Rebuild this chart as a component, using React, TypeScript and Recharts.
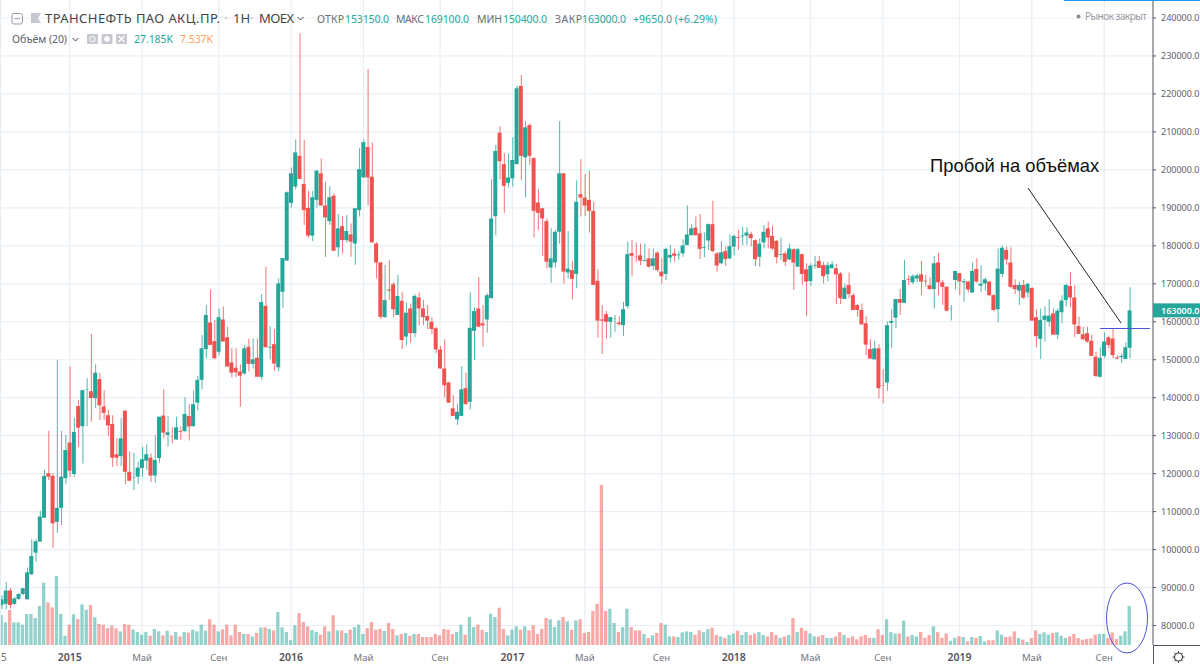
import React from 'react';
import { ComposedChart, Bar, Cell, XAxis, YAxis, CartesianGrid } from 'recharts';

// weekly candles, prices in thousands of roubles, volume in thousands
const opens = [
  85.4,85.7,89.2,85.7,87,88.3,86.9,93.5,99.2,102.1,
  108.4,120.1,119.4,107.3,111,118.8,128.2,119.9,137.8,132.5,
  142.1,141.7,139.9,144.9,137.7,135.4,133.1,125.1,124.6,136.6,
  120.5,119,119.2,121.5,123.4,124.2,119.5,124.1,135.3,130.2,
  129.9,129,131.2,131.2,135.2,132.5,138.7,144.7,152.8,159.8,
  154.9,152.1,160.6,155.9,149.3,147.9,146.9,146.4,153.4,148.9,
  150.5,145.5,164.2,153.2,154.1,148,167.9,176.1,191.3,195.6,
  203.7,196.3,190,182.7,192.1,199.1,190.6,186.5,193.2,179.6,
  185.2,181.5,183,180.6,189.4,198,206,198.2,180.6,175.6,
  161.2,168.5,169.9,161.8,165.5,156.1,163.5,157,166.4,163.5,
  161.5,160,158.3,152.7,147.7,144,137.2,134.3,135.2,142.5,
  138.9,157.6,163.5,159.6,160.6,166.2,187.8,209.8,201.5,196.6,
  197.8,201.5,222.1,203.3,211.8,203.1,191.4,189.9,186.5,174.3,
  175.6,183.7,199.1,173,173.6,172.6,193.6,192.7,192.1,189.2,
  170.8,160.6,162,160,160.7,159.8,159.1,164.1,178.1,177.1,
  177.5,176,176.7,174.7,178.2,173.2,172.6,176.9,178,177.5,
  178,180.2,182.8,184.8,183.3,179.5,181.4,185.7,178,175.4,
  178.6,176.7,179.8,182.3,182.5,182.7,183.1,181.5,177.1,180.9,
  184.6,182.6,181.3,177.6,178,176.4,179.1,174.5,177.8,173.8,
  170.7,174.8,176,174.9,172.5,174.1,174.1,172.7,166,169.7,
  167,164.4,163.1,159.6,152.8,150.1,153,143.2,144,159.7,
  161.1,166,165,171.3,170.4,171.4,172.5,170.8,169.6,168.6,
  175.6,170.4,169.2,163.5,171,172.8,170.4,170.6,167.7,173.9,
  169.5,170.1,170.6,167,163.3,172.6,178.9,175.6,169.7,168.2,
  169.7,167.7,168.9,161.2,155.5,160.5,160,162.2,156.6,162.5,
  165.7,169.4,166.4,158.9,156.7,157,155,150.8,145.5,151,
  155.9,155.6,150.6,150.7,150.2,153.15,
];
const highs = [
  88,91.5,89.8,87.6,88.5,89.9,95.3,102.7,102.7,110.2,
  121,131.3,120.2,150,131.3,130.2,148.2,134.8,139.4,142,
  145.1,156.8,148.8,146.6,142,136.8,135.4,129.3,134.6,136.6,
  125.8,125.5,123.2,127.1,127.7,125.3,130.2,135,142.2,135.2,
  132.2,135,132.4,140.1,138.3,141.9,145.7,156.5,164.4,168.5,
  160.5,163.5,164,158.7,153,153,148.8,153.9,155.6,155.6,
  155.6,167.3,174.5,158.9,158.1,171.4,176.8,194.3,200.6,208,
  236,207.9,194.5,194.5,200,203,196.9,195.7,193.8,188.4,
  187.8,188.1,185.9,189.9,205.7,208,226.6,207.2,181,175.8,
  175,176.2,170.5,172.3,167.9,165.1,164.8,167.3,167.7,165.7,
  164.4,161.2,158.7,153.6,155.4,144.2,140.7,138.5,148.3,146.6,
  167.9,163.8,171.7,164.4,167.5,197.5,206.6,211.4,204.5,204.3,
  208.6,222.1,225,212.9,212.3,203.3,194.9,189.9,187.2,184.6,
  184.2,212.9,199.1,183.9,176,197.3,202.8,198.9,199.8,191.6,
  173.8,164.4,162.9,161.3,161.8,161.5,165.3,181.1,181.5,180.8,
  180.6,180.6,179.3,179.3,178.6,176.7,179.5,180.2,179.3,178.6,
  181.7,190.6,185.7,187.7,188.4,183.5,185.9,191.9,178.4,181.3,
  179.8,183,183,184.2,184.9,184.9,183.7,181.7,182,185.5,
  186.4,185.2,181.5,182.2,178.6,180.6,179.3,179.5,178,175.4,
  175.4,177.3,177.3,175.8,175.8,176,175.2,173.2,170.1,173,
  167.5,164.7,164.8,161.5,155.4,155,154.1,147.5,160,163.3,
  166,168.6,176.3,172.3,172.6,172.7,176,172.3,171.7,177.3,
  178.2,171,169.4,164.4,173.4,172.9,171.4,170.8,175.6,176.7,
  174.9,171.7,170.6,167.3,179.3,180,179.8,179.6,171.2,170.6,
  171,170.3,169.1,163.3,163.5,164,165.9,163.5,163.5,167,
  170,173.2,169.7,161.3,158.7,158.7,156.5,152.1,153.3,157.2,
  156.3,158.1,151.2,151.7,154.6,169.1,
];
const lows = [
  84.3,84.25,84.5,85.4,86.8,88,86.9,93.3,96.8,102.1,
  108.4,118.3,100.5,104.4,106.5,117.3,119.2,119.2,127.1,122.7,
  132.5,133.7,137.3,134.1,134.1,129.9,121.8,122,122,117.3,
  118.1,115.7,117.3,119.2,121,117.7,117.6,122.9,129.3,127.1,
  128,128.9,128.9,131,128.7,132.4,136.6,142.2,150.4,153.9,
  150.1,151.2,154.8,148.2,145.4,145.4,137.6,146,146.9,147.7,
  145.5,144.7,153.3,150.1,147.1,146.9,163.7,176.1,190.1,194.9,
  197.6,185.5,182.2,181.3,190.1,190.6,177.1,185.5,178.7,177.1,
  178,180.8,177.1,175,187.7,198,190.6,180.9,171.4,160.7,
  161.2,165.7,161.2,161.8,152.8,153.7,154.5,155.9,159.1,159.1,
  158,156.8,151.7,147.7,140.1,138.7,135.2,132.8,135.2,138.3,
  136.9,149.9,158.5,153.4,157.1,166.2,182.8,197.5,188.7,195.4,
  195.6,201.5,197.3,192.7,201.3,182.2,184.2,177.4,174,170.3,
  174.3,180.6,170.1,171.4,165.9,168.8,187.7,187.8,183.5,169.7,
  155.8,151.5,155.6,155.8,157.4,158.9,156.3,163.5,171.9,175.8,
  174.9,175.8,174.3,173.6,173.2,170,171,175.6,175.8,176.3,
  177.1,180.2,182.8,182.7,176.5,177,178.9,178.4,173.2,175.2,
  174.7,176.4,177.6,178.9,180.2,180.2,179.9,174.7,174.5,179.3,
  179.3,178.9,175.4,176.2,174.7,176.2,168.4,174.5,169.8,161.5,
  169.4,174,174.2,170.1,170.6,174.1,164.7,164.7,166,166.2,
  163.1,161.3,159.3,151.2,150.2,150.1,139.8,138.5,141.8,153,
  158.3,161.8,165,169.7,169.9,170.4,167,169.2,168.4,163.5,
  167,164.4,162.8,160.3,168.5,167,165.3,167.7,167.7,170.3,
  167.9,168.1,166.8,162.8,159.8,171.7,175,168.8,167.3,164.4,
  166,166.4,160.3,153.3,150.2,154.8,158.7,156.5,155.5,159.6,
  164,163.8,155.9,156.7,155.2,154.5,151,145.4,145.3,150.4,
  153,150.4,150.1,149.2,150.2,150.4,
];
const closes = [
  86.9,89.2,85.4,87.1,88.3,89.8,94,98.3,102.2,108.7,
  119.4,119.2,106.9,111,119.2,126.2,120.8,131,132.1,142,
  142.2,139.9,146.6,138,136,132.7,124.2,124.2,129.3,120.5,
  118.1,119.1,121.6,123.8,125.1,119.5,123.6,135,130.8,130.9,
  129.8,132.2,131,135.7,132.4,138.3,144.7,153,161.8,153.9,
  150.4,161.2,154.8,148.2,146.6,146.7,145.8,153,148.9,150.1,
  145.5,165.2,153.3,153.4,149,170.1,176.8,194.1,199.1,204.6,
  197.6,189.4,182.7,192.8,199.8,190.6,187.5,192.8,178.7,184.6,
  181.5,183.9,181.1,189.9,200.2,207.3,198,180.9,175.6,161.3,
  165.7,168.2,163.3,166.8,155.2,162.4,157,166.8,163.5,161.2,
  160.3,158.1,152.7,147.7,143.3,138.7,135.2,136.3,142.2,138.3,
  158.4,162.8,158.7,159,167,187.2,205,202.3,195.8,198,
  202.6,221.5,203.7,211.2,203.7,189.2,188.7,187.2,175.8,176.7,
  183.7,199.1,173.2,174,171.3,191.6,192.7,190.6,189.2,169.7,
  160.3,160.3,160,161.2,160.8,159.4,163.3,177.8,177.4,177,
  176.1,176.2,174.5,176.7,173.6,172,179.2,177.6,177.4,177.7,
  180.1,183,184.6,182.8,179.2,179.7,185.7,178.6,174.8,178.3,
  176.5,179.9,182.6,182.1,182.7,183.5,182,176.5,180.6,183.7,
  182.2,179.3,177,177.8,175.8,179.3,175.6,179.1,172.6,170.6,
  174.8,175,174.2,172,174.9,175.1,172.5,166.2,169,167.3,
  163.1,163.1,159.3,154,150.3,153,142.5,143.1,159.1,160.2,
  166,165,171,171.1,172,172.2,170.6,170.6,168.6,175.4,
  170.4,169.2,162.9,163.6,173.4,170.6,170.7,168.5,173.4,170.6,
  170,171.2,167,163.1,174,179.5,176.4,169.2,168.6,169.7,
  166.3,170,160.3,156.2,160.5,161.6,161.6,156.6,162.9,165.6,
  169.7,166.4,159.3,156.8,155.4,154.8,151,145.7,150.5,154.8,
  153.9,151.2,150.3,151,153.3,163,
];
const volumes = [
  20.9,15.8,24.4,15.8,15.8,14.2,21.6,21.6,18.8,27.2,
  43.4,29.7,26.2,48.1,21.6,6.5,14.2,21.4,18.1,28.3,
  24.6,27.9,19.3,14.6,14.2,11.8,13.5,11.6,9.5,14.6,
  14.2,10.9,9.1,7.2,9.1,6.5,11.2,9.5,6.7,10,
  6.7,9.1,6,9.1,8.6,10.7,9.5,14.2,10,17.9,
  14.2,9.5,10.9,14.2,6.7,14.2,9.1,7.7,7.7,6,
  8.4,12.3,12.3,11.2,10.2,23,12.3,9.1,3.3,13.7,
  22.3,16,13,10.5,9.3,7.2,13,9.5,20.7,10.2,
  10.2,8.4,10.7,12.5,14.2,7.7,11.8,16,10.7,11.2,
  9.8,15.3,11.2,6.7,7.7,8.4,6.5,7.7,7.7,5.6,
  5.6,5.6,7.7,6.7,11.2,10.7,7.7,9.1,14.2,7.2,
  19.5,12.5,14.2,10.5,9.1,21.8,19.5,26,11.2,6.7,
  10.7,13,10.7,13,10.2,13.7,7.7,11.2,18.8,17.9,
  12.5,17.2,19.5,16.5,10.7,17.2,17.9,8.4,9.1,23.7,
  28.8,111.5,23.7,25.3,15.3,9.1,12.5,25.3,12.5,10.2,
  10.2,7.7,4.9,6.7,8.4,15.3,14.2,6,6,5.6,
  8.8,9.5,9.1,7.2,10.2,9,11,12,7,6,
  5,7,8,10,7,9,7,8,9,7,
  6,9,7,5,6,7,18.8,9,12,10,
  8,6,6,7,5,5,6,9,7,5,
  6,4,6,7,5,5,11,7,18,9,
  8,8,17,6,7,6,9,5,7,13,
  9,5,8,3,5,6,5.6,2.6,5.6,4.9,
  6.3,2.6,3.3,3.3,10.2,7.2,5.6,6,9.5,4.9,
  3.7,2.1,4.9,10.2,7.7,8.8,7.2,8.4,8.8,6.5,
  4.9,6,7.7,4.9,3.7,4.2,4.6,7.2,7.7,7.7,
  4.9,8.8,4.2,6.5,9.5,27.185,
];

const priceTicks = [80,90,100,110,120,130,140,150,160,170,180,190,200,210,220,230,240];
const lastPrice = 163;

// week index -> axis label
const gridWeeks = [16,33,51,68,85,103,120,137,155,172,190,207,225,242,259];
const gridLabels = ['2015','Май','Сен','2016','Май','Сен','2017','Май','Сен','2018','Май','Сен','2019','Май','Сен'];

const GREEN = '#26a69a';
const RED = '#ef5350';
const FONT = '"Noto Sans", "Open Sans", sans-serif';

const candles = opens.map((o, i) => ({
  week: i,
  wick: [lows[i], highs[i]],
  body: [Math.min(o, closes[i]), Math.max(o, closes[i])],
  volume: volumes[i],
  up: closes[i] >= o,
}));

const weekDomain = [-0.376, 270.47];

const PriceTick = ({ y, payload }: any) => {
  if (payload.value === lastPrice) {
    return (
      <g>
        <rect x={1153} y={y - 7} width={47} height={14} fill={GREEN} />
        <text x={1161} y={y + 3.5} fontSize={9} fontWeight={600} fill="#fff" fontFamily={FONT}>
          {(payload.value * 1000).toFixed(1)}
        </text>
      </g>
    );
  }
  return (
    <text x={1161} y={y + 3.5} fontSize={9} fill="#5d606b" fontFamily={FONT}>
      {(payload.value * 1000).toFixed(1)}
    </text>
  );
};

const WeekTick = ({ x, payload }: any) => {
  const label = payload.value === 0.5 ? '5' : gridLabels[gridWeeks.indexOf(payload.value)];
  const isYear = /^\d{4}$/.test(label);
  return (
    <text
      x={x}
      y={661}
      textAnchor="middle"
      fontSize={isYear || label === '5' ? 10.5 : 9.5}
      fontWeight={isYear ? 600 : 400}
      fill={isYear ? '#50535e' : '#71747e'}
      fontFamily={FONT}
    >
      {label}
    </text>
  );
};

const Header = () => (
  <g fontFamily={FONT}>
    <rect x={12} y={13.5} width={10.5} height={10.5} rx={2} fill="none" stroke="#9a9ca3" />
    <line x1={14.5} x2={20} y1={18.7} y2={18.7} stroke="#9a9ca3" />
    <path d="M31 13 H41 L38 18 L41 23 H31 Z" fill="#c6c8d0" />
    <text x={45} y={23} fontSize={13} fill="#444" textLength={175}>ТРАНСНЕФТЬ ПАО АКЦ.ПР.</text>
    <text x={224} y={23} fontSize={13} fill="#bbb">·</text>
    <text x={233} y={23} fontSize={13} fill="#444">1Н</text>
    <text x={250} y={23} fontSize={13} fill="#bbb">·</text>
    <text x={259} y={23} fontSize={13} fill="#444" textLength={35}>MOEX</text>
    <path d="M297.5 17 L300.5 20 L303.5 17" fill="none" stroke="#444" />

    <text x={317} y={22.5} fontSize={10.5} fill="#6b6e78" textLength={27}>ОТКР</text>
    <text x={345} y={22.5} fontSize={10.5} fill={GREEN} textLength={44}>153150.0</text>
    <text x={396} y={22.5} fontSize={10.5} fill="#6b6e78" textLength={28}>МАКС</text>
    <text x={425} y={22.5} fontSize={10.5} fill={GREEN} textLength={44}>169100.0</text>
    <text x={477} y={22.5} fontSize={10.5} fill="#6b6e78" textLength={25}>МИН</text>
    <text x={503} y={22.5} fontSize={10.5} fill={GREEN} textLength={44}>150400.0</text>
    <text x={555} y={22.5} fontSize={10.5} fill="#6b6e78" textLength={27}>ЗАКР</text>
    <text x={582} y={22.5} fontSize={10.5} fill={GREEN} textLength={44}>163000.0</text>
    <text x={633} y={22.5} fontSize={10.5} fill={GREEN} textLength={84}>+9650.0 (+6.29%)</text>

    <text x={12} y={43} fontSize={10.5} fill="#5d606b" textLength={55}>Объём (20)</text>
    <path d="M72.5 38 L75.5 41 L78.5 38" fill="none" stroke="#444" />
    <rect x={87} y={34} width={11} height={10} fill="#c6c9d0" rx={1} />
    <circle cx={92.5} cy={39} r={2.7} fill="none" stroke="#fff" />
    <rect x={101.5} y={34} width={11} height={10} fill="#c6c9d0" rx={1} />
    <circle cx={107} cy={39} r={2.7} fill="#fff" />
    <rect x={116} y={34} width={11} height={10} fill="#c6c9d0" rx={1} />
    <path d="M118.5 36 L124.5 42 M124.5 36 L118.5 42" stroke="#fff" strokeWidth={1.3} />
    <text x={134} y={43} fontSize={10.5} fill={GREEN} textLength={39}>27.185K</text>
    <text x={180} y={43} fontSize={10.5} fill="#ff9f5a" textLength={33}>7.537K</text>

    <circle cx={1078.5} cy={16.5} r={2} fill="#8a8c94" />
    <text x={1085} y={20} fontSize={10} fill="#9a9ca3" textLength={62}>Рынок закрыт</text>
  </g>
);

const Gear = () => (
  <g stroke="#444" fill="none">
    <circle cx={1178.5} cy={657} r={4} strokeWidth={1.2} />
    <path d="M1178.5 651 V653 M1178.5 661 V663 M1172.5 657 H1174.5 M1182.5 657 H1184.5 M1174.3 652.8 L1175.7 654.2 M1181.3 659.8 L1182.7 661.2 M1182.7 652.8 L1181.3 654.2 M1175.7 659.8 L1174.3 661.2" />
  </g>
);

const Notes = () => (
  <svg width={1200} height={664} style={{ position: 'absolute', left: 0, top: 0, pointerEvents: 'none' }}>
    <rect x={0} y={0} width={1} height={645} fill="#e4ecf4" />
    <rect x={1064} y={0} width={136} height={1} fill="#2196f3" />
    <line x1={1153.5} x2={1153.5} y1={645} y2={664} stroke="#50535e" />
    <line x1={1153} x2={1200} y1={645.5} y2={645.5} stroke="#50535e" />
    <Header />
    <Gear />
    <text x={930} y={172} fontSize={18.4} fill="#111" fontFamily='"Liberation Sans", Arial, sans-serif'>
      Пробой на объёмах
    </text>
    <line x1={1028} y1={188} x2={1121} y2={323} stroke="#222" strokeWidth={1} />
    <line x1={1100} y1={328.5} x2={1150} y2={328.5} stroke="#4d52d6" strokeWidth={1.2} />
    <ellipse cx={1127} cy={618} rx={20.5} ry={35} fill="none" stroke="#4d52d6" strokeWidth={1} />
  </svg>
);

export default function App() {
  return (
    <div style={{ position: 'absolute', left: 0, top: 0, width: 1200, height: 664, background: '#fff', overflow: 'hidden' }}>
      <ComposedChart width={1200} height={664} data={candles} margin={{ top: 0, right: 0, bottom: 0, left: 0 }}>
        <CartesianGrid
          xAxisId="main"
          yAxisId="price"
          stroke="#e9eff4"
          strokeWidth={1.2}
          horizontalValues={priceTicks}
          verticalValues={gridWeeks}
          syncWithTicks={false}
        />
        <XAxis
          xAxisId="main"
          dataKey="week"
          type="number"
          domain={weekDomain}
          allowDataOverflow
          ticks={[0.5, ...gridWeeks]}
          interval={0}
          height={19}
          tick={<WeekTick />}
          tickSize={3}
          stroke="#50535e"
        />
        <XAxis xAxisId="wicks" dataKey="week" type="number" domain={weekDomain} allowDataOverflow hide />
        <XAxis xAxisId="bodies" dataKey="week" type="number" domain={weekDomain} allowDataOverflow hide />
        <YAxis
          yAxisId="price"
          orientation="right"
          width={47}
          domain={[74.87, 244.74]}
          allowDataOverflow
          ticks={[...priceTicks, lastPrice]}
          interval={0}
          tick={<PriceTick />}
          tickSize={3}
          stroke="#50535e"
        />
        <YAxis yAxisId="volume" hide domain={[0, 449.6]} allowDataOverflow />
        <Bar xAxisId="main" yAxisId="volume" dataKey="volume" barSize={3.3} isAnimationActive={false}>
          {candles.map((c) => (
            <Cell key={c.week} fill={c.up ? GREEN : RED} fillOpacity={0.5} />
          ))}
        </Bar>
        <Bar xAxisId="wicks" yAxisId="price" dataKey="wick" barSize={1} isAnimationActive={false}>
          {candles.map((c) => (
            <Cell key={c.week} fill={c.up ? GREEN : RED} fillOpacity={0.8} />
          ))}
        </Bar>
        <Bar xAxisId="bodies" yAxisId="price" dataKey="body" barSize={4} isAnimationActive={false}>
          {candles.map((c) => (
            <Cell key={c.week} fill={c.up ? GREEN : RED} />
          ))}
        </Bar>
      </ComposedChart>
      <Notes />
    </div>
  );
}
